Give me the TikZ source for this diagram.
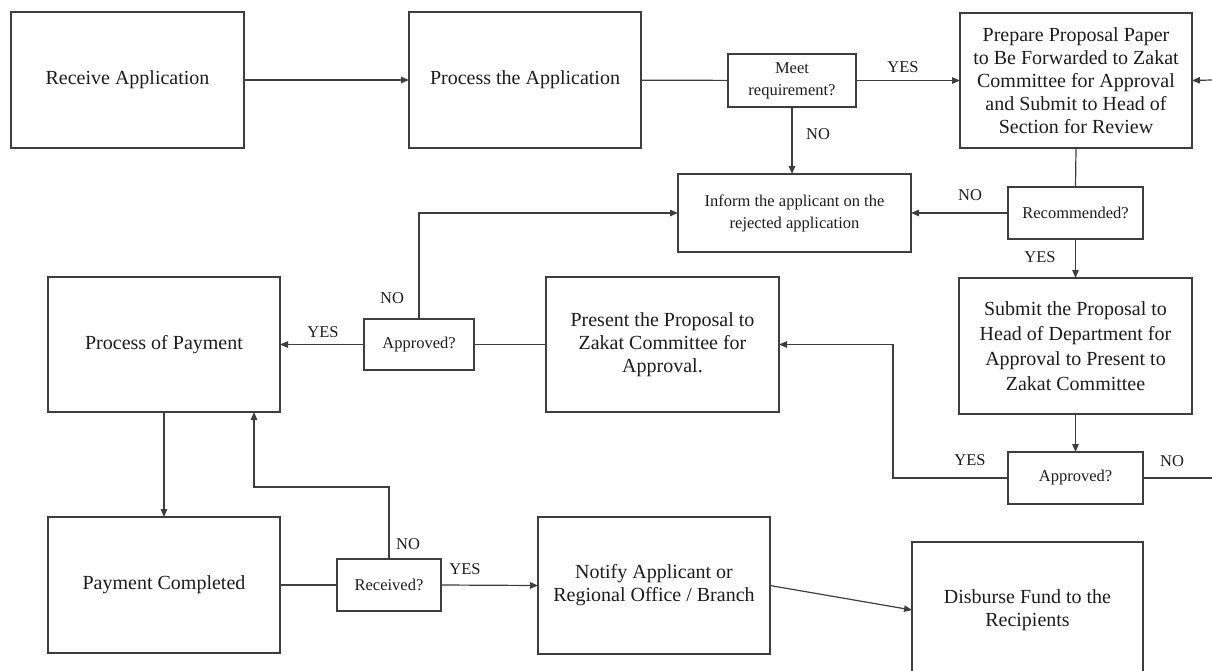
\documentclass[tikz,border=0pt]{standalone}
\usepackage{fontspec}
\setmainfont{Liberation Serif}
\usetikzlibrary{arrows.meta,positioning}
\definecolor{edgegray}{RGB}{62,62,62}
\definecolor{inkgray}{RGB}{28,28,28}
\begin{document}
\begin{tikzpicture}[
						x=1pt,
						y=-1pt,
						line width=1.2pt,
						>={Triangle[length=8pt,width=6.5pt]},
						stage/.style={draw=edgegray, text=inkgray, inner sep=0pt, outer sep=0pt, align=center, minimum width=233pt, minimum height=136pt, font=\fontsize{20}{23}\selectfont},
						query/.style={draw=edgegray, text=inkgray, inner sep=0pt, outer sep=0pt, align=center, minimum height=52pt, font=\fontsize{16.5}{22}\selectfont},
						answer/.style={text=inkgray, inner sep=0pt, font=\fontsize{16.5}{20}\selectfont},
						flow/.style={->, draw=edgegray},
						link/.style={draw=edgegray}
					]
					\useasboundingbox (0,0) rectangle (1212,671);
					\node[stage] (recv) at (127.5,80) {Receive Application};
					\node[stage, minimum width=232pt] (procapp) at (525,80) {Process the Application};
					\node[query, minimum width=128pt, minimum height=53pt] (meet) at (792,80.5) {Meet\\requirement?};
					\node[stage, minimum width=232pt, minimum height=135pt] (prep) at (1076,80.5) {Prepare Proposal Paper\\to Be Forwarded to Zakat\\Committee for Approval\\and Submit to Head of\\Section for Review};
					\node[query, minimum width=233pt, minimum height=78pt] (inform) at (794.5,213) {Inform the applicant on the\\rejected application};
					\node[query, minimum width=135pt] (recom) at (1075.5,213) {Recommended?};
					\node[stage, font=\fontsize{20}{25}\selectfont] (submit) at (1075.5,346) {Submit the Proposal to\\Head of Department for\\Approval to Present to\\Zakat Committee};
					\node[query, minimum width=135pt] (apprB) at (1075.5,478) {Approved?};
					\node[stage, minimum height=135pt] (present) at (662.5,344.5) {Present the Proposal to\\Zakat Committee for\\Approval.};
					\node[query, minimum width=110pt, minimum height=51pt] (apprA) at (419,344.5) {Approved?};
					\node[stage, minimum width=232pt, minimum height=135pt] (pay) at (164,344.5) {Process of Payment};
					\node[stage, minimum width=232pt] (done) at (164,585) {Payment Completed};
					\node[query, minimum width=104pt] (recd) at (389,585) {Received?};
					\node[stage, minimum width=232pt, minimum height=137pt] (notify) at (654,585.5) {Notify Applicant or\\Regional Office / Branch};
					\node[stage, minimum width=231pt] (disb) at (1027.5,610) {Disburse Fund to the\\Recipients};
					\coordinate (rightin) at (1212,80);
					\coordinate (rightout) at (1212,478);
					\coordinate (bendB) at (893,478);
					\coordinate (bendR) at (254,487);
					\draw[flow] (recv) -- (procapp);
					\draw[link] (procapp) -- (meet);
					\draw[flow] (meet) -- (prep);
					\draw[flow] (meet.south) -- (meet.south |- inform.north);
					\draw[flow] (rightin) -- (prep.east);
					\draw[link] (prep.south) -- (recom.north);
					\draw[flow] (recom.west) -- (inform.east);
					\draw[flow] (recom.south) -- (submit.north);
					\draw[flow] (submit.south) -- (apprB.north);
					\draw[flow] (apprB.west) -- (bendB) |- (present.east);
					\draw[link] (apprB.east) -- (rightout);
					\draw[link] (present.west) -- (apprA.east);
					\draw[flow] (apprA.west) -- (pay.east);
					\draw[flow] (apprA.north) |- (inform.west);
					\draw[flow] (pay.south) -- (done.north);
					\draw[link] (done.east) -- (recd.west);
					\draw[flow] (recd.north) |- (bendR) -- (bendR |- pay.south);
					\draw[flow] (recd.east) -- (notify.west);
					\draw[flow] (notify.east) -- (disb.west);
					\node[answer] (yesmeet) at (903,67) {YES};
					\node[answer] (nomeet) at (818,134) {NO};
					\node[answer] (norecom) at (970,195) {NO};
					\node[answer] (yesrecom) at (1040,257) {YES};
					\node[answer] (yesapprB) at (970,460) {YES};
					\node[answer] (noapprB) at (1172,461) {NO};
					\node[answer] (noapprA) at (392,298) {NO};
					\node[answer] (yesapprA) at (323,332) {YES};
					\node[answer] (norecd) at (408,544) {NO};
					\node[answer] (yesrecd) at (465,569) {YES};
				\end{tikzpicture}
\end{document}
